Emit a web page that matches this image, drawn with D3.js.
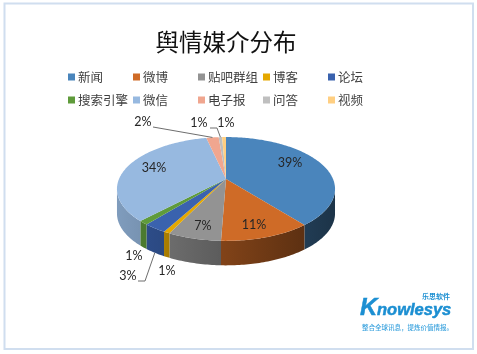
<!DOCTYPE html>
<html lang="zh">
<head>
<meta charset="utf-8">
<script src="https://cdn.jsdelivr.net/npm/d3@7"></script>
<style>
html,body{margin:0;padding:0;background:#fff;}
svg{display:block;filter:blur(0.35px);}
</style>
</head>
<body>
<svg id="chart" width="477" height="354"></svg>
<script>
const titleText = "舆情媒介分布";
const categories = ["新闻","微博","贴吧群组","博客","论坛","搜索引擎","微信","电子报","问答","视频"];
const values = [39.3,11.3,6.6,0.8,2.9,1.2,34.4,2.2,0.6,0.7];
const colors = ["#4A85BC","#CF6B27","#939393","#E5A800","#3A62AE","#5F9B3B","#97B9E0","#F0A68F","#BFBFBF","#FFCF82"];
const sloganText = "整合全球讯息，提炼价值情报。";

// Layout only
const W = 477, H = 354;
const apex = {x:226, y:179}, R = 107, Q = 50, K = 0.192, DEPTH = 24.5;
const labelPos = [[290,162],[254,224],[203,225],[167,270],[128,275],[134,255],[154,167],[143,121],[199,122],[226,122]];
const leaders = {4:[[145,281],[138,281]],7:[[153,127]],8:[[217,128],[210,128]]};

const svg = d3.select("#chart");
const defs = svg.append("defs");
const fontCJK = "'Noto Sans CJK SC','Noto Sans',sans-serif";

svg.append("rect").attr("x",4.5).attr("y",3.5).attr("width",468.5).attr("height",345.5)
  .attr("fill","#fff").attr("stroke","#D0DEEF").attr("stroke-width",2);

svg.append("text").attr("x",226).attr("y",51).attr("text-anchor","middle")
  .attr("font-family",fontCJK).attr("font-size",23.5).attr("fill","#111").text(titleText);

// Legend
const legX = d3.scalePoint().domain(d3.range(5)).range([68,328]);
const legY = d3.scalePoint().domain([0,1]).range([77,100]);
const leg = svg.append("g").selectAll("g").data(categories).join("g")
  .attr("transform",(d,i)=>`translate(${legX(i%5)},${legY(Math.floor(i/5))})`);
leg.append("rect").attr("x",0).attr("y",-3.5).attr("width",7).attr("height",7).attr("fill",(d,i)=>colors[i]);
leg.append("text").attr("x",10).attr("y",4.5).attr("font-family",fontCJK).attr("font-size",12.5)
  .attr("fill","#404040").text(d=>d);

// Perspective projection of the pie plane
function project(theta, r=1){
  const x = r*Math.sin(theta), y = -r*Math.cos(theta), w = 1 - K*y;
  return [apex.x + R*x/w, apex.y + Q*y/w];
}
const pie = d3.pie().sort(null).value(d=>d)(values);
const thetaR = Math.acos(-K), thetaL = 2*Math.PI - thetaR;
const step = Math.PI/180;
const line = d3.line();
const rim = (a,b)=>{ const n = Math.max(2,Math.ceil((b-a)/step)); return d3.range(n+1).map(i=>project(a+(b-a)*i/n)); };

function shade(c,f){const q=d3.rgb(c);return d3.rgb(q.r*f,q.g*f,q.b*f).formatHex();}
const leftX = apex.x-111, rightX = apex.x+111;

// Side walls
const walls = svg.append("g");
pie.forEach((s,i)=>{
  const a = Math.max(s.startAngle,thetaR), b = Math.min(s.endAngle,thetaL);
  if(b<=a) return;
  const id = "wall"+i;
  const g = defs.append("linearGradient").attr("id",id).attr("gradientUnits","userSpaceOnUse")
    .attr("x1",leftX).attr("x2",rightX).attr("y1",0).attr("y2",0);
  g.append("stop").attr("offset",0).attr("stop-color",shade(colors[i],0.85));
  g.append("stop").attr("offset",1).attr("stop-color",shade(colors[i],0.38));
  const top = rim(a,b);
  const bottom = top.map(p=>[p[0],p[1]+DEPTH]).reverse();
  walls.append("path").attr("d",line(top.concat(bottom))+"Z").attr("fill",`url(#${id})`);
});

// Top face
svg.append("g").selectAll("path").data(pie).join("path")
  .attr("d",s=>line([[apex.x,apex.y]].concat(rim(s.startAngle,s.endAngle)))+"Z")
  .attr("fill",(s,i)=>colors[i]);

// Leader lines
const lg = svg.append("g");
Object.entries(leaders).forEach(([k,pts])=>{
  const s = pie[+k], mid=(s.startAngle+s.endAngle)/2;
  let p = project(mid);
  if(mid>thetaR && mid<thetaL) p=[p[0],p[1]+DEPTH];
  lg.append("path").attr("d",line([p].concat(pts))).attr("fill","none").attr("stroke","#6e6e6e").attr("stroke-width",1);
});

// Value labels
const total = d3.sum(values), pct = d3.format(".0%");
svg.append("g").selectAll("text").data(values).join("text")
  .attr("x",(d,i)=>labelPos[i][0]).attr("y",(d,i)=>labelPos[i][1]+4.5).attr("text-anchor","middle")
  .attr("font-family","Lato,'Open Sans',sans-serif").attr("font-size",12.5).attr("fill","#262626")
  .text(d=>pct(d/total));

// Logo
const logo = svg.append("g");
const brandAttrs = t=>t.attr("font-family","'Liberation Sans',sans-serif").attr("font-weight",700)
  .attr("font-style","italic").attr("fill","#1C8FD2").attr("stroke","#1C8FD2").attr("stroke-width",0.5);
logo.append("text").attr("x",360).attr("y",315).attr("font-size",24).call(brandAttrs).text("K");
logo.append("text").attr("x",377).attr("y",315).attr("font-size",16.5).call(brandAttrs).text("nowlesys");
logo.append("text").attr("x",422).attr("y",298.5).attr("font-family",fontCJK).attr("font-weight",700)
  .attr("font-size",7).attr("fill","#1C8FD2").text("乐思软件");
logo.append("text").attr("x",362).attr("y",330).attr("font-family",fontCJK).attr("font-weight",500)
  .attr("font-size",6.5).attr("fill","#3BA3DE").text(sloganText);
</script>
</body>
</html>
